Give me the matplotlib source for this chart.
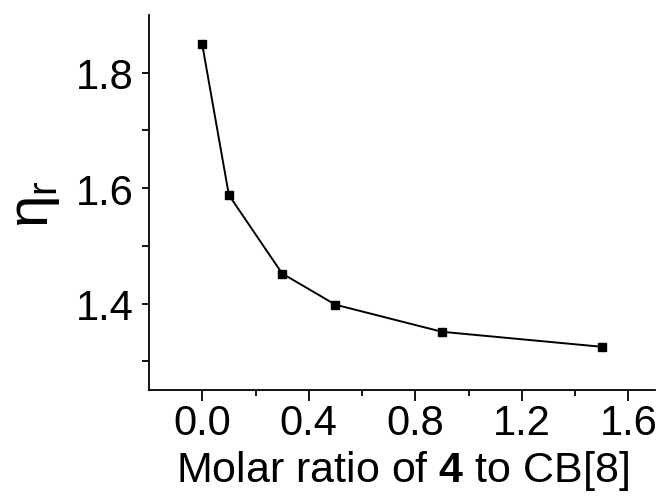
import numpy as np
import matplotlib.pyplot as plt
from matplotlib.ticker import FixedLocator

plt.rcParams['font.family'] = ['Liberation Sans', 'DejaVu Sans']
plt.rcParams['mathtext.fontset'] = 'custom'
plt.rcParams['mathtext.rm'] = 'Liberation Sans'
plt.rcParams['mathtext.bf'] = 'Liberation Sans:bold'

# molar ratio vs relative viscosity
ratio = [0.0, 0.1, 0.3, 0.5, 0.9, 1.5]
eta_r = [1.849, 1.588, 1.452, 1.398, 1.351, 1.325]

x_ticks = [0.0, 0.4, 0.8, 1.2, 1.6]
x_ticklabels = ['0.0', '0.4', '0.8', '1.2', '1.6']
x_minor = [0.2, 0.6, 1.0, 1.4]
y_ticks = [1.4, 1.6, 1.8]
y_ticklabels = ['1.4', '1.6', '1.8']
y_minor = [1.3, 1.5, 1.7]

fig = plt.figure(figsize=(6.63, 5.02), dpi=100)
ax = fig.add_axes([0.2247, 0.221, 0.988 - 0.2247, 0.968 - 0.221])

ax.plot(ratio, eta_r, '-', color='black', lw=1.4,
        marker='s', markersize=6, markerfacecolor='black', markeredgecolor='black')

ax.set_xlim(-0.2, 1.7)
ax.set_ylim(1.25, 1.9)
ax.set_xticks(x_ticks)
ax.set_xticklabels(x_ticklabels)
ax.set_yticks(y_ticks)
ax.set_yticklabels(y_ticklabels)
ax.xaxis.set_minor_locator(FixedLocator(x_minor))
ax.yaxis.set_minor_locator(FixedLocator(y_minor))

for s in ['top', 'right']:
    ax.spines[s].set_visible(False)
for s in ['left', 'bottom']:
    ax.spines[s].set_linewidth(1.3)

ax.tick_params(axis='both', which='major', direction='out', width=1.3, labelsize=30)
ax.tick_params(axis='x', which='major', length=8, pad=1)
ax.tick_params(axis='x', which='minor', length=4, width=1.3)
ax.tick_params(axis='y', which='major', length=5, pad=6)
ax.tick_params(axis='y', which='minor', length=5, width=1.3)

ax.set_xlabel(r'Molar ratio of $\mathbf{4}$ to CB[8]', fontsize=31, labelpad=4)
ax.set_ylabel(r'$\mathrm{\eta_r}$', fontsize=42, labelpad=10)

fig.savefig('out.png', dpi=100)
